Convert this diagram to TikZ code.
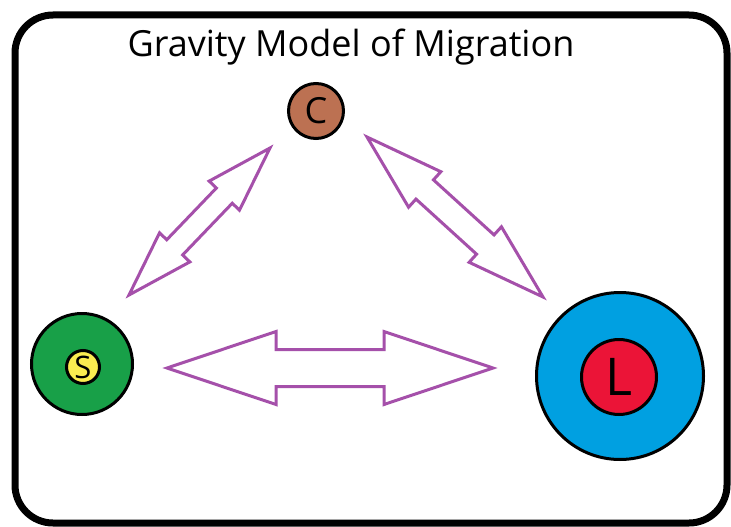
\documentclass[tikz,border=0pt]{standalone}
\usepackage{fontspec}
\setmainfont{Open Sans}
\usetikzlibrary{calc}
\definecolor{cbrown}{RGB}{188,113,82}
\definecolor{sgreen}{RGB}{24,160,72}
\definecolor{syellow}{RGB}{250,236,80}
\definecolor{lblue}{RGB}{0,160,225}
\definecolor{lred}{RGB}{235,20,55}
\definecolor{apurple}{RGB}{165,80,170}
\newcommand\blockarrow[5]{%
  \coordinate (ha) at ($(#1)!#3!(#2)$);
  \coordinate (hb) at ($(#2)!#3!(#1)$);
  \draw[arrowline] (#1) -- ($(ha)!#4!90:(#2)$) -- ($(ha)!#5!90:(#2)$)
    -- ($(hb)!#5!-90:(#1)$) -- ($(hb)!#4!-90:(#1)$) -- (#2)
    -- ($(hb)!#4!90:(#1)$) -- ($(hb)!#5!90:(#1)$)
    -- ($(ha)!#5!-90:(#2)$) -- ($(ha)!#4!-90:(#2)$) -- cycle;
}
\begin{document}
\begin{tikzpicture}[x=1pt,y=-1pt,
  disc/.style={circle, draw=black, line width=3pt, inner sep=0pt},
  arrowline/.style={draw=apurple, line width=3pt, line join=miter},
  frame/.style={draw=black, line width=7pt, rounded corners=38pt}]
\useasboundingbox (0,0) rectangle (731,527);
\fill[white] (0,0) rectangle (731,527);
\draw[frame] (15,15) rectangle (727,523);
\node[anchor=base, inner sep=0pt, font=\fontsize{36}{40}\selectfont] (title) at (351,57) {Gravity Model of Migration};
% C
\node[disc, fill=cbrown, minimum size=55pt, font=\fontsize{36}{40}\selectfont] (C) at (316,111) {C};
% S
\node[disc, fill=sgreen, minimum size=101pt] (Souter) at (82,364) {};
\node[disc, fill=syellow, minimum size=33pt, font=\fontsize{31}{34}\selectfont] (Sinner) at (83,367) {S};
% L
\node[disc, fill=lblue, minimum size=167pt] (Louter) at (620,376) {};
\node[disc, fill=lred, minimum size=75pt, font=\fontsize{52}{56}\selectfont] (Linner) at (619,377) {L};
% arrow end points
\coordinate (hA) at (167,368);
\coordinate (hB) at (493,368);
\coordinate (lA) at (129,295);
\coordinate (lB) at (270,148);
\coordinate (rA) at (367,137);
\coordinate (rB) at (543,297);
\blockarrow{hA}{hB}{109pt}{36.5pt}{18.5pt}
\blockarrow{lA}{lB}{66pt}{21pt}{11pt}
\blockarrow{rA}{rB}{78pt}{24pt}{13pt}
\end{tikzpicture}
\end{document}
